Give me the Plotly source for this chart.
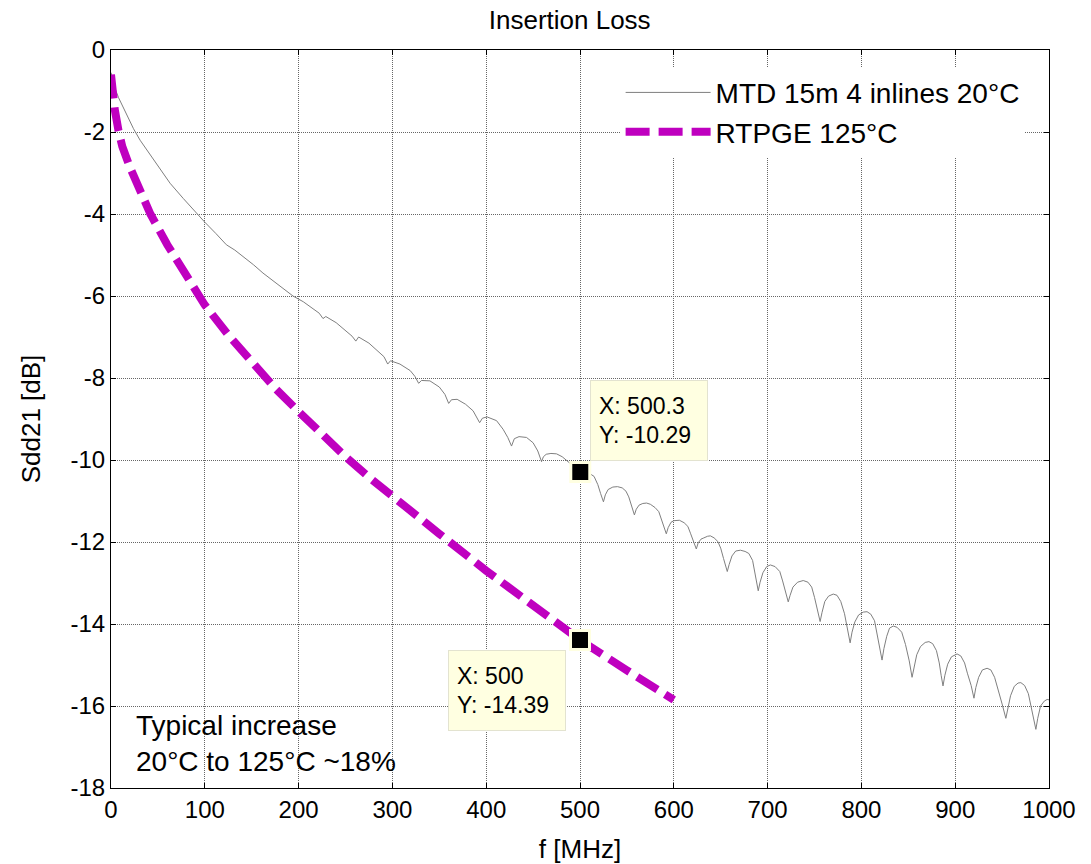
import plotly.graph_objects as go

# ---------------- data ----------------
mtd_f = [0, 2, 5, 8, 12, 18, 24, 31, 40, 50, 63, 77, 91, 100, 112, 123, 132, 141, 152, 162,
         172, 182, 194, 205, 215, 222, 226, 229, 240, 250, 257, 261, 264, 275, 285, 291, 295,
         298, 308, 319, 324, 328, 331, 340, 350, 356, 360, 363, 369, 378, 386, 393, 396, 401,
         411, 418, 423, 427, 430, 435, 443, 450, 455, 459, 461, 464, 469, 475, 481, 487, 493,
         500.3, 506, 511, 515, 519, 522, 525, 527, 530, 535, 540, 545, 549, 552, 555, 558,
         560, 563, 567, 571, 575, 580, 584, 587, 590, 592, 594, 597, 600, 606, 611, 615, 618,
         621, 624, 626, 629, 632, 636, 639, 643, 647, 650, 653, 657, 659, 662, 666, 671, 676,
         680, 684, 687, 690, 692, 695, 699, 703, 708, 713, 716, 719, 722, 724, 727, 732, 738,
         743, 747, 750, 753, 756, 758, 761, 765, 770, 774, 778, 782, 785, 788, 790, 793, 797,
         802, 806, 810, 814, 817, 820, 822, 824, 827, 830, 834, 838, 843, 847, 851, 854, 856,
         859, 863, 868, 872, 876, 880, 883, 885, 887, 889, 892, 896, 902, 906, 910, 913, 917,
         920, 922, 925, 929, 934, 938, 942, 946, 950, 954, 956, 959, 963, 967, 970, 974, 978,
         981, 984, 986, 988, 991, 995, 998, 1000]
mtd_db = [-0.55, -0.75, -0.98, -1.16, -1.35, -1.63, -1.92, -2.2, -2.5, -2.82, -3.25, -3.62,
          -3.98, -4.2, -4.48, -4.75, -4.88, -5.04, -5.24, -5.44, -5.62, -5.8, -6.0, -6.14,
          -6.3, -6.42, -6.55, -6.5, -6.65, -6.85, -6.98, -7.1, -7.0, -7.15, -7.35, -7.48,
          -7.66, -7.58, -7.66, -7.82, -7.96, -8.13, -8.06, -8.07, -8.22, -8.4, -8.62, -8.53,
          -8.52, -8.64, -8.8, -9.09, -8.98, -8.95, -9.04, -9.25, -9.45, -9.66, -9.48, -9.43,
          -9.45, -9.58, -9.78, -10.04, -9.92, -9.86, -9.84, -9.85, -9.92, -10.03, -10.15,
          -10.29, -10.3, -10.34, -10.4, -10.6, -10.82, -11.02, -10.85, -10.72, -10.66, -10.65,
          -10.68, -10.76, -10.9, -11.1, -11.34, -11.2, -11.1, -11.06, -11.05, -11.08, -11.16,
          -11.26, -11.45, -11.65, -11.8, -11.65, -11.52, -11.48, -11.47, -11.53, -11.62, -11.8,
          -12.0, -12.17, -12.02, -11.93, -11.9, -11.86, -11.85, -11.9, -11.99, -12.15, -12.4,
          -12.72, -12.55, -12.34, -12.22, -12.2, -12.23, -12.28, -12.45, -12.8, -13.19, -12.98,
          -12.75, -12.6, -12.56, -12.6, -12.72, -12.95, -13.2, -13.46, -13.3, -13.1, -12.98,
          -12.94, -12.98, -13.1, -13.35, -13.65, -13.94, -13.72, -13.45, -13.32, -13.27, -13.3,
          -13.45, -13.75, -14.1, -14.46, -14.2, -13.95, -13.78, -13.71, -13.7, -13.76, -13.92,
          -14.25, -14.6, -14.88, -14.6, -14.3, -14.1, -14.05, -14.08, -14.2, -14.5, -14.9,
          -15.3, -15.05, -14.75, -14.55, -14.45, -14.43, -14.48, -14.65, -14.95, -15.25, -15.51,
          -15.25, -14.98, -14.8, -14.73, -14.78, -14.95, -15.2, -15.5, -15.81, -15.55, -15.3,
          -15.12, -15.08, -15.12, -15.3, -15.6, -15.95, -16.3, -16.05, -15.75, -15.52, -15.44,
          -15.43, -15.5, -15.7, -16.0, -16.35, -16.57, -16.3, -16.0, -15.88, -15.84, -15.85]

rtpge_f = [0, 1, 2, 4, 8, 12, 20, 30, 42, 60, 80, 93, 100, 125, 150, 175, 200, 225,
           250, 275, 300, 350, 400, 450, 500, 550, 600]
rtpge_db = [-0.6, -0.95, -1.15, -1.45, -1.97, -2.35, -2.85, -3.4, -4.0, -4.75, -5.5, -5.98,
            -6.22, -6.95, -7.62, -8.25, -8.82, -9.38, -9.92, -10.42, -10.9, -11.8,
            -12.7, -13.55, -14.39, -15.13, -15.85]

tip_x = [500.3, 500]
tip_y = [-10.29, -14.39]
tip_text = ["X: 500.3<br>Y: -10.29", "X: 500<br>Y: -14.39"]

x_ticks = [0, 100, 200, 300, 400, 500, 600, 700, 800, 900, 1000]
x_labels = ["0", "100", "200", "300", "400", "500", "600", "700", "800", "900", "1000"]
y_ticks = [0, -2, -4, -6, -8, -10, -12, -14, -16, -18]
y_labels = ["0", "-2", "-4", "-6", "-8", "-10", "-12", "-14", "-16", "-18"]

FONT = "Liberation Sans, Arial, sans-serif"
TIP_BG = "#FFFFE1"

fig = go.Figure()
fig.add_trace(go.Scatter(x=mtd_f, y=mtd_db, mode="lines", name="MTD 15m 4 inlines 20°C",
                         line=dict(color="#7F7F7F", width=1)))
fig.add_trace(go.Scatter(x=rtpge_f, y=rtpge_db, mode="lines", name="RTPGE 125°C",
                         line=dict(color="#BF00BF", width=8, dash="24px,9px")))
fig.add_trace(go.Scatter(x=tip_x, y=tip_y, mode="markers", showlegend=False,
                         marker=dict(symbol="square", size=19, color="black",
                                     line=dict(color=TIP_BG, width=3))))

# data tips
fig.add_annotation(x=tip_x[0], y=tip_y[0], text=tip_text[0], showarrow=False,
                   xanchor="left", yanchor="bottom", xshift=10, yshift=11, align="left",
                   width=100, height=63, bgcolor=TIP_BG, bordercolor="#E3E3D0",
                   borderwidth=1, borderpad=8, font=dict(family=FONT, size=23, color="black"))
fig.add_annotation(x=tip_x[1], y=tip_y[1], text=tip_text[1], showarrow=False,
                   xanchor="right", yanchor="top", xshift=-14, yshift=-10, align="left",
                   width=100, height=63, bgcolor=TIP_BG, bordercolor="#E3E3D0",
                   borderwidth=1, borderpad=8, font=dict(family=FONT, size=23, color="black"))

# white background box of the text note (hides the grid)
fig.add_shape(type="rect", xref="paper", yref="paper", x0=0.002, x1=0.322, y0=0.001,
              y1=0.119, fillcolor="white", line=dict(width=0), layer="between")
fig.add_annotation(xref="paper", yref="paper", x=0.0, y=0.06, xanchor="left",
                   yanchor="middle", xshift=24, text="Typical increase<br>20°C to 125°C ~18%",
                   showarrow=False, align="left", borderpad=0,
                   font=dict(family=FONT, size=28, color="black"))

fig.update_layout(
    width=1091, height=864,
    margin=dict(l=111, r=42, t=50, b=76, autoexpand=False),
    paper_bgcolor="white", plot_bgcolor="white",
    font=dict(family=FONT, size=24, color="black"),
    title=dict(text="Insertion Loss", x=0.489, xref="paper", xanchor="center",
               y=0.977, yref="container", yanchor="middle",
               font=dict(family=FONT, size=26, color="black")),
    legend=dict(x=0.974, y=0.976, xanchor="right", yanchor="top", bgcolor="white",
                borderwidth=0, font=dict(family=FONT, size=28, color="black"),
                itemwidth=85, tracegroupgap=0),
    showlegend=True,
)
fig.update_xaxes(range=[0, 1000], tickvals=x_ticks, ticktext=x_labels, ticks="inside",
                 ticklen=5, tickcolor="black", showline=True, linecolor="black", linewidth=1,
                 mirror="ticks", showgrid=True, gridcolor="#666666", griddash="1px,1px",
                 gridwidth=1, zeroline=False, tickfont=dict(size=24), automargin=False,
                 title=dict(text="f [MHz]", font=dict(size=26), standoff=22))
fig.update_yaxes(range=[-18, 0], tickvals=y_ticks, ticktext=y_labels, ticks="inside",
                 ticklen=5, tickcolor="black", showline=True, linecolor="black", linewidth=1,
                 mirror="ticks", showgrid=True, gridcolor="#666666", griddash="1px,1px",
                 gridwidth=1, zeroline=False, tickfont=dict(size=24), automargin=False,
                 title=dict(text="Sdd21 [dB]", font=dict(size=26), standoff=22))

fig.write_html("out.html")
